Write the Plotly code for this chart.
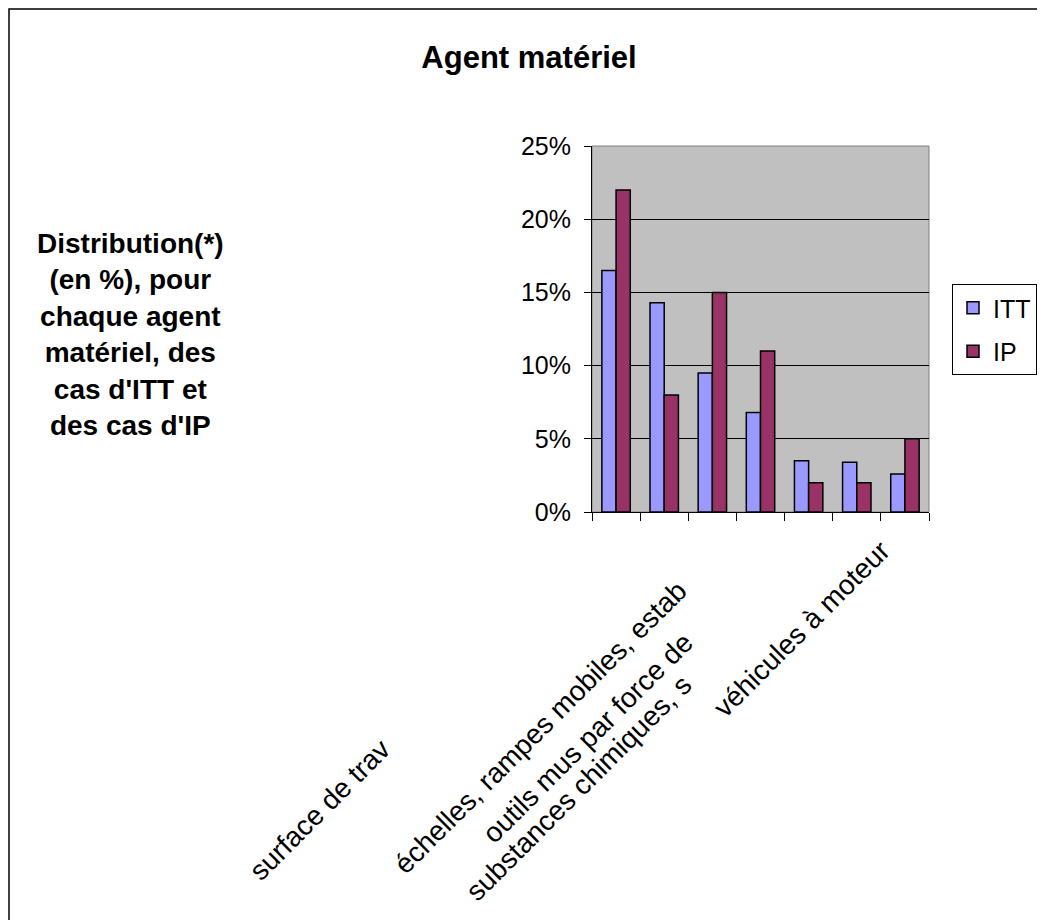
import plotly.graph_objects as go

# ---- data ----
categories = [
    "surface de trav",
    "échelles, rampes mobiles, estab",
    "outils mus par force de",
    "substances chimiques, s",
    "",
    "",
    "véhicules à moteur",
]
itt = [0.165, 0.143, 0.095, 0.068, 0.035, 0.034, 0.026]
ip = [0.22, 0.08, 0.15, 0.11, 0.02, 0.02, 0.05]
series_names = ["ITT", "IP"]
y_ticks = [0, 0.05, 0.10, 0.15, 0.20, 0.25]
title_text = "Agent matériel"
side_text = ["Distribution(*)", "(en %), pour", "chaque agent",
             "matériel, des", "cas d'ITT et", "des cas d'IP"]

# ---- layout geometry (screen pixels; page body has an 8px margin) ----
OFF = 8
W, H = 1045, 920
L = 592 - OFF
T = 146 - OFF
R = W - (929 - OFF)
B = H - (512 - OFF)
PW = W - L - R
PH = H - T - B
FONT = "Liberation Sans, Arial, sans-serif"


def px_x(p):
    return (p - OFF - L) / PW


def px_y(p):
    return (H - B - (p - OFF)) / PH


positions = list(range(len(categories)))

fig = go.Figure()
fig.add_trace(go.Bar(
    x=positions, y=itt, name=series_names[0], legendgroup="g1",
    marker=dict(color="#9999FF", line=dict(color="black", width=1.5)),
))
fig.add_trace(go.Bar(
    x=positions, y=ip, name=series_names[1], legendgroup="g2",
    marker=dict(color="#993366", line=dict(color="black", width=1.5)),
))

# category label centers (screen pixels) as placed in the reference
label_centers = {0: (319, 810), 1: (540, 727), 2: (587, 738), 3: (578, 788), 6: (801, 629)}
annotations = []
for i, txt in enumerate(categories):
    if not txt or i not in label_centers:
        continue
    cx, cy = label_centers[i]
    annotations.append(dict(
        text=txt, xref="paper", yref="paper", x=px_x(cx), y=px_y(cy),
        xanchor="center", yanchor="middle", textangle=-45, showarrow=False,
        font=dict(family=FONT, size=28, color="black"),
    ))

annotations.append(dict(
    text="<br>".join(side_text), xref="paper", yref="paper",
    x=px_x(130), y=px_y(334), xanchor="center", yanchor="middle",
    showarrow=False, align="center",
    font=dict(family=FONT, size=28, color="black", weight="bold"),
))

shapes = [
    # plot area border (grey)
    dict(type="rect", xref="paper", yref="paper", x0=0, x1=1, y0=0, y1=1,
         line=dict(color="#808080", width=1), layer="below"),
    # outer chart border
    dict(type="rect", xref="paper", yref="paper",
         x0=px_x(9), x1=px_x(1060), y0=px_y(940), y1=px_y(9),
         line=dict(color="black", width=1.5), fillcolor="rgba(0,0,0,0)"),
]

fig.update_layout(
    width=W, height=H,
    margin=dict(l=L, r=R, t=T, b=B),
    paper_bgcolor="white",
    plot_bgcolor="#C0C0C0",
    barmode="group", bargap=0.41, bargroupgap=0,
    font=dict(family=FONT, color="black"),
    title=dict(text="<b>" + title_text + "</b>",
               xref="container", x=(529 - OFF) / W,
               yref="container", y=1 - (57 - OFF) / H,
               xanchor="center", yanchor="middle",
               font=dict(family=FONT, size=31, color="black")),
    showlegend=True,
    legend=dict(x=px_x(952), y=px_y(284), xanchor="left", yanchor="top",
                bgcolor="white", bordercolor="black", borderwidth=1,
                font=dict(family=FONT, size=25, color="black"),
                tracegroupgap=8),
    annotations=annotations,
    shapes=shapes,
)

fig.update_xaxes(
    range=[-0.5, len(categories) - 0.5],
    tickvals=[i - 0.5 for i in range(len(categories) + 1)],
    showticklabels=False,
    ticks="outside", ticklen=8, tickcolor="black", tickwidth=1,
    showline=True, linecolor="black", linewidth=1,
    showgrid=False, zeroline=False,
)
fig.update_yaxes(
    range=[0, 0.25], tickvals=y_ticks, tickformat=".0%",
    ticks="outside", ticklen=7, tickcolor="black", tickwidth=1,
    ticklabelstandoff=8,
    tickfont=dict(family=FONT, size=25, color="black"),
    showline=True, linecolor="black", linewidth=1,
    showgrid=True, gridcolor="black", gridwidth=1, zeroline=False,
)

fig.write_html("out.html")
